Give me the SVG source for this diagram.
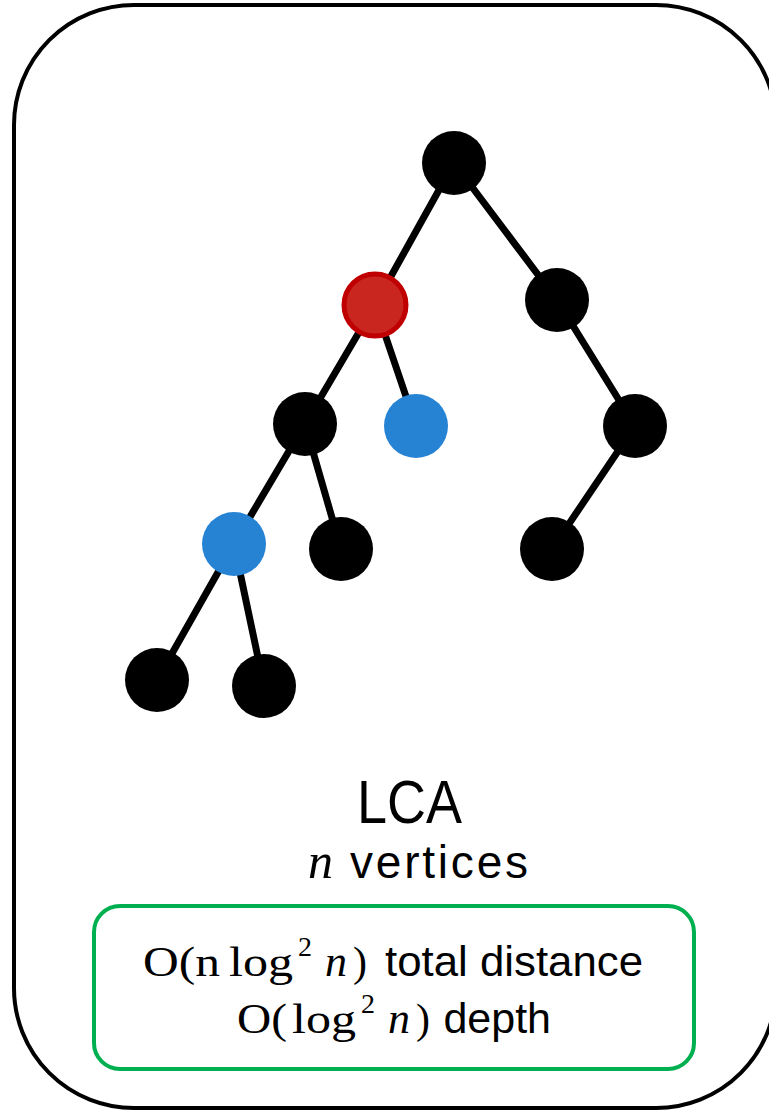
<svg xmlns="http://www.w3.org/2000/svg" width="769" height="1110" viewBox="0 0 769 1110">
  <style>
    .edge { stroke: #000; stroke-width: 7; stroke-linecap: round; }
    .blk { fill: #000; }
    .blue { fill: #2683D3; }
    .red { fill: #C8261E; stroke: #C00000; stroke-width: 5; }
    .sans { font-family: "Liberation Sans", "Open Sans", sans-serif; fill: #000; }
    .math { font-family: "Liberation Serif", "DejaVu Serif", serif; fill: #000; }
    .it { font-style: italic; }
  </style>
  <!-- outer frame -->
  <rect x="14" y="5" width="762" height="1103" rx="120" ry="120" fill="#fff" stroke="#000" stroke-width="4"/>

  <g id="connectors">
    <line class="edge" x1="454" y1="163" x2="375" y2="305"/>
    <line class="edge" x1="454" y1="163" x2="557" y2="300"/>
    <line class="edge" x1="375" y1="305" x2="305" y2="424"/>
    <line class="edge" x1="375" y1="305" x2="416" y2="426"/>
    <line class="edge" x1="557" y1="300" x2="635" y2="426"/>
    <line class="edge" x1="305" y1="424" x2="234" y2="544"/>
    <line class="edge" x1="305" y1="424" x2="341" y2="549"/>
    <line class="edge" x1="635" y1="426" x2="552" y2="549"/>
    <line class="edge" x1="234" y1="544" x2="157" y2="680"/>
    <line class="edge" x1="234" y1="544" x2="264" y2="686"/>
  </g>

  <g id="n-root"><circle class="blk" cx="454" cy="163" r="32"/></g>
  <g id="n-lca"><circle class="red" cx="375" cy="305" r="31"/></g>
  <g id="n-r1"><circle class="blk" cx="557" cy="300" r="32"/></g>
  <g id="n-l2"><circle class="blk" cx="305" cy="424" r="32"/></g>
  <g id="n-q2"><circle class="blue" cx="416" cy="426" r="32"/></g>
  <g id="n-r2"><circle class="blk" cx="635" cy="426" r="32"/></g>
  <g id="n-q1"><circle class="blue" cx="234" cy="544" r="32"/></g>
  <g id="n-l3"><circle class="blk" cx="341" cy="549" r="32"/></g>
  <g id="n-r3"><circle class="blk" cx="552" cy="549" r="32"/></g>
  <g id="n-l4a"><circle class="blk" cx="157" cy="680" r="32"/></g>
  <g id="n-l4b"><circle class="blk" cx="264" cy="686" r="32"/></g>

  <g id="caption">
    <text class="sans" x="357" y="823" font-size="62" textLength="105" lengthAdjust="spacingAndGlyphs">LCA</text>
    <text class="math it" x="308" y="878" font-size="50">n</text>
    <text class="sans" x="350" y="878" font-size="46" textLength="178" lengthAdjust="spacing">vertices</text>
  </g>

  <g id="complexity">
    <rect x="94" y="906" width="600" height="163" rx="26" ry="26" fill="none" stroke="#00B050" stroke-width="4"/>
    <!-- line 1: O(n log^2 n) total distance -->
    <text class="math" x="143" y="976" font-size="42" textLength="77" lengthAdjust="spacingAndGlyphs">O(n</text>
    <text class="math" x="229" y="976" font-size="42" textLength="64" lengthAdjust="spacingAndGlyphs">log</text>
    <text class="math" x="298" y="956" font-size="28">2</text>
    <text class="math it" x="325" y="976" font-size="44">n</text>
    <text class="math" x="353" y="976" font-size="42">)</text>
    <text class="sans" x="385" y="976" font-size="43" textLength="258" lengthAdjust="spacingAndGlyphs">total distance</text>
    <!-- line 2: O(log^2 n) depth -->
    <text class="math" x="237" y="1033" font-size="42" textLength="50" lengthAdjust="spacingAndGlyphs">O(</text>
    <text class="math" x="292" y="1033" font-size="42" textLength="64" lengthAdjust="spacingAndGlyphs">log</text>
    <text class="math" x="361" y="1013" font-size="28">2</text>
    <text class="math it" x="388" y="1033" font-size="44">n</text>
    <text class="math" x="416" y="1033" font-size="42">)</text>
    <text class="sans" x="551" y="1033" font-size="43" text-anchor="end">depth</text>
  </g>
</svg>
